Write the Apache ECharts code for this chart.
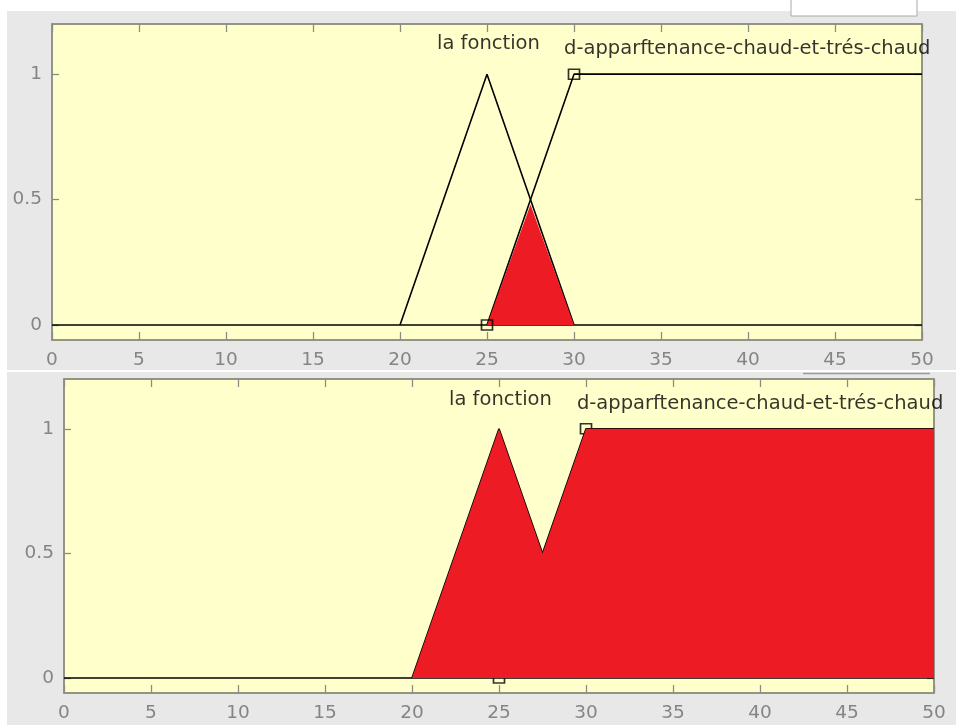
<!DOCTYPE html>
<html>
<head>
<meta charset="utf-8">
<script src="https://cdn.jsdelivr.net/npm/echarts@6/dist/echarts.min.js"></script>
<style>html,body{margin:0;padding:0;background:#fff}#c{width:956px;height:725px}</style>
</head>
<body>
<div id="c"></div>
<script>
// ---- data ----
const yTickValues = [0, 0.5, 1];
const xTickValues = [0, 5, 10, 15, 20, 25, 30, 35, 40, 45, 50];
const baselineX = [0, 50];
const baselineY = [0, 0];
const triX = [20, 25, 30];          // "la fonction"
const triY = [0, 1, 0];
const trapX = [25, 30, 50];         // "chaud et très chaud"
const trapY = [0, 1, 1];
const minX = [25, 27.5, 30];        // intersection (top)
const minY = [0, 0.48, 0];
const maxX = [20, 25, 27.5, 30, 50]; // union (bottom)
const maxY = [0, 1, 0.5, 1, 1];
const markerX = [25, 30];
const markerY = [0, 1];
const labelTexts = ['la fonction', 'd-apparftenance-chaud-et-trés-chaud'];
const labelXTop = [22.1, 29.4];
const labelYTop = [1.12, 1.1];
const labelXBot = [22.1, 29.45];
const labelYBot = [1.115, 1.1];

const zip = (xs, ys) => xs.map((x, i) => [x, ys[i]]);

const FRAME = '#8e8e80';
const LABEL = '#858585';
const FONT = 'DejaVu Sans';
const RED = '#ED1C24';

function xAxes(g) {
  const common = { type: 'value', gridIndex: g, min: 0, max: 50, interval: 5, z: 1,
    axisLine: { show: true, onZero: false, lineStyle: { color: FRAME, width: 1.5 } },
    splitLine: { show: false } };
  return [
    Object.assign({}, common, { position: 'bottom',
      axisTick: { show: true, inside: true, length: 8, customValues: xTickValues, lineStyle: { color: FRAME, width: 1.3 } },
      axisLabel: { show: true, margin: 11, customValues: xTickValues, color: LABEL, fontFamily: FONT, fontSize: 18.5 } }),
    Object.assign({}, common, { position: 'top',
      axisTick: { show: true, inside: true, length: 8, customValues: xTickValues, lineStyle: { color: FRAME, width: 1.3 } },
      axisLabel: { show: false } })
  ];
}
function yAxes(g) {
  const common = { type: 'value', gridIndex: g, min: -0.06, max: 1.2, z: 1,
    axisLine: { show: true, onZero: false, lineStyle: { color: FRAME, width: 1.5 } },
    splitLine: { show: false } };
  return [
    Object.assign({}, common, { position: 'left',
      axisTick: { show: true, inside: true, length: 7, customValues: yTickValues, lineStyle: { color: FRAME, width: 1.3 } },
      axisLabel: { show: true, margin: 10, customValues: yTickValues, color: LABEL, fontFamily: FONT, fontSize: 18.5 } }),
    Object.assign({}, common, { position: 'right',
      axisTick: { show: true, inside: true, length: 7, customValues: yTickValues, lineStyle: { color: FRAME, width: 1.3 } },
      axisLabel: { show: false } })
  ];
}

function lineSeries(xi, yi, data, z) {
  return { type: 'line', xAxisIndex: xi, yAxisIndex: yi, data: data, symbol: 'none',
    lineStyle: { color: '#000', width: 1.6 }, z: z, animation: false, silent: true };
}
function redSeries(xi, yi, data, z) {
  return { type: 'line', xAxisIndex: xi, yAxisIndex: yi, data: data, symbol: 'none',
    lineStyle: { width: 0, color: RED }, areaStyle: { color: RED, opacity: 1, origin: 0 },
    z: z, animation: false, silent: true };
}
function markers(xi, yi, z) {
  return { type: 'scatter', xAxisIndex: xi, yAxisIndex: yi, data: zip(markerX, markerY),
    symbol: 'rect', symbolSize: [11, 10],
    itemStyle: { color: 'rgba(0,0,0,0)', borderColor: '#000', borderWidth: 1.6 },
    z: z, animation: false, silent: true };
}
function labels(xi, yi, xs, ys) {
  return { type: 'scatter', xAxisIndex: xi, yAxisIndex: yi,
    data: xs.map((x, i) => ({ value: [x, ys[i]], name: labelTexts[i] })),
    symbol: 'circle', symbolSize: 1, itemStyle: { color: 'rgba(0,0,0,0)' }, z: 10,
    label: { show: true, position: 'right', distance: 0, align: 'left', verticalAlign: 'middle',
      formatter: p => p.name, color: '#000', fontFamily: FONT, fontSize: 19.5 },
    labelLayout: { hideOverlap: false },
    animation: false, silent: true };
}

const chart = echarts.init(document.getElementById('c'), null, { renderer: 'canvas' });
chart.setOption({
  backgroundColor: '#ffffff',
  animation: false,
  graphic: [
    { type: 'rect', z: -100, shape: { x: 7, y: 11, width: 949, height: 359 }, style: { fill: '#e8e8e8' }, silent: true },
    { type: 'rect', z: -100, shape: { x: 7, y: 372, width: 949, height: 353 }, style: { fill: '#e8e8e8' }, silent: true },
    { type: 'rect', z: -99, shape: { x: 791, y: -2, width: 126, height: 18 }, style: { fill: '#ffffff', stroke: '#aaaaaa', lineWidth: 1 }, silent: true },
    { type: 'line', z: -99, shape: { x1: 803, y1: 373.5, x2: 930, y2: 373.5 }, style: { stroke: '#9a9a9a', lineWidth: 1.5 }, silent: true }
  ],
  grid: [
    { left: 52, top: 24, width: 870, height: 316, show: true, backgroundColor: '#ffffcc', borderColor: FRAME, borderWidth: 1.5, z: 0 },
    { left: 64, top: 379, width: 870, height: 314, show: true, backgroundColor: '#ffffcc', borderColor: FRAME, borderWidth: 1.5, z: 0 }
  ],
  xAxis: [...xAxes(0), ...xAxes(1)],
  yAxis: [...yAxes(0), ...yAxes(1)],
  series: [
    // top panel
    lineSeries(0, 0, zip(baselineX, baselineY), 2),
    lineSeries(0, 0, zip(triX, triY), 2),
    lineSeries(0, 0, zip(trapX, trapY), 2),
    redSeries(0, 0, zip(minX, minY), 3),
    markers(0, 0, 4),
    labels(0, 0, labelXTop, labelYTop),
    // bottom panel
    lineSeries(2, 2, zip(baselineX, baselineY), 2),
    lineSeries(2, 2, zip(triX, triY), 2),
    lineSeries(2, 2, zip(trapX, trapY), 2),
    markers(2, 2, 3),
    redSeries(2, 2, zip(maxX, maxY), 4),
    labels(2, 2, labelXBot, labelYBot)
  ]
});
</script>
</body>
</html>
